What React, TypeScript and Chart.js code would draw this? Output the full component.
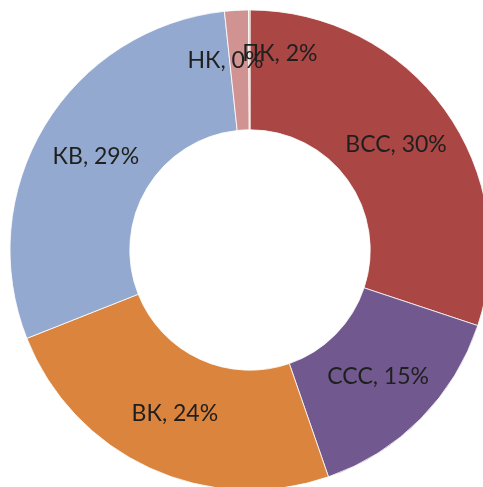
import React, { useEffect, useRef } from "react";
import { Chart, registerables } from "chart.js";

Chart.register(...registerables);

const categories = ["ВСС", "ССС", "ВК", "КВ", "ПК", "НК"];
const values = [30.1, 14.6, 24.3, 29.3, 1.6, 0.1];
const colors = ["#AA4643", "#71588F", "#DB843D", "#93A9CF", "#D19392", "#B9CD96"];
// small nudges for overlapping labels (pixels), as placed in the original
const labelNudgeX = [0, 0, 0, 0, 40, -24];
const labelNudgeY = [0, 0, 0, 0, -17, -9];

const labelPlugin = {
  id: "sliceLabels",
  afterDatasetsDraw(chart: any) {
    const ctx = chart.ctx;
    const meta = chart.getDatasetMeta(0);
    const data = chart.data.datasets[0].data as number[];
    const total = data.reduce((a, b) => a + b, 0);
    ctx.save();
    ctx.font = '23px "Lato", "Liberation Sans", sans-serif';
    ctx.fillStyle = "#1f1f1f";
    ctx.textAlign = "center";
    ctx.textBaseline = "middle";
    meta.data.forEach((arc: any, i: number) => {
      const { x, y, startAngle, endAngle, innerRadius, outerRadius } = arc.getProps(
        ["x", "y", "startAngle", "endAngle", "innerRadius", "outerRadius"],
        true
      );
      const mid = (startAngle + endAngle) / 2;
      const r = (innerRadius + outerRadius) / 2;
      const lx = x + Math.cos(mid) * r + labelNudgeX[i];
      const ly = y + Math.sin(mid) * r + labelNudgeY[i];
      const pct = Math.round((data[i] / total) * 100);
      ctx.fillText(`${chart.data.labels[i]}, ${pct}%`, lx, ly);
    });
    ctx.restore();
  },
};

export default function App() {
  const ref = useRef<HTMLCanvasElement>(null);
  useEffect(() => {
    if (!ref.current) return;
    const chart = new Chart(ref.current, {
      type: "doughnut",
      data: {
        labels: categories,
        datasets: [
          {
            data: values,
            backgroundColor: colors,
            borderColor: "#ffffff",
            borderWidth: 0.8,
            radius: 240,
            cutout: 120,
          } as any,
        ],
      },
      options: {
        responsive: false,
        animation: false,
        layout: { padding: 0 },
        plugins: {
          legend: { display: false },
          tooltip: { enabled: false },
        },
      },
      plugins: [labelPlugin],
    });
    return () => chart.destroy();
  }, []);
  return (
    <div
      style={{
        position: "fixed",
        left: 0,
        top: 0,
        width: 483,
        height: 487,
        overflow: "hidden",
        background: "#fff",
      }}
    >
      <canvas
        ref={ref}
        width={480}
        height={480}
        style={{ position: "absolute", left: 10, top: 10, width: 480, height: 480 }}
      />
    </div>
  );
}
